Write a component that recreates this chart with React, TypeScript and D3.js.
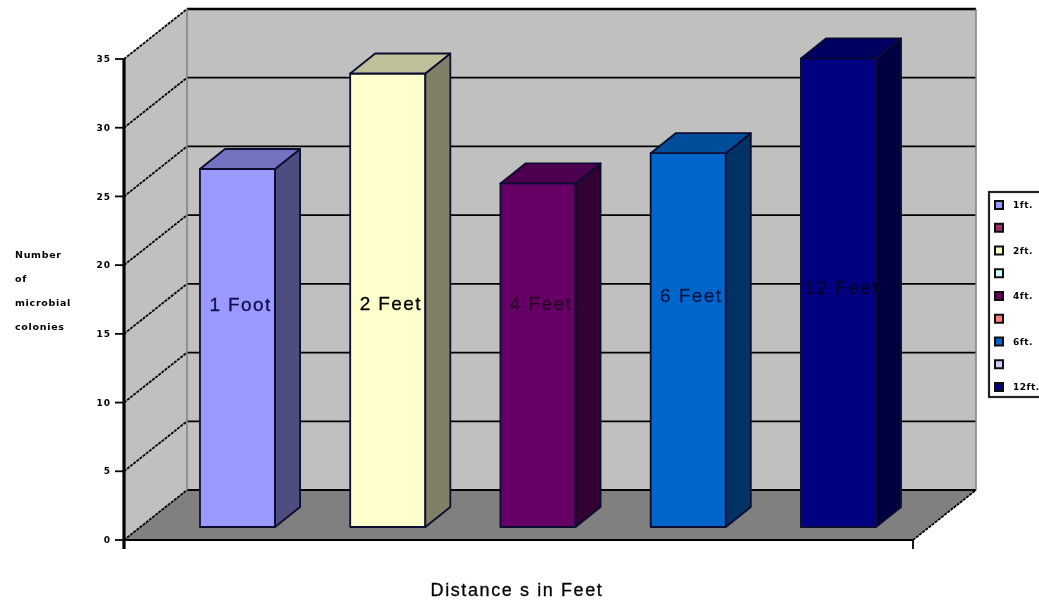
import React from 'react';
import * as d3 from 'd3';

const categories = ['1 Foot', '2 Feet', '4 Feet', '6 Feet', '12 Feet'];
const colonies = [26.05, 33, 25, 27.2, 34.1];
const barColors = ['#9999ff', '#ffffcc', '#660066', '#0066cc', '#000080'];
const labelColors = ['#101050', '#000000', '#2a002a', '#00184a', '#00002e'];
const yTicks = [0, 5, 10, 15, 20, 25, 30, 35];
const yTitle = ['Number', 'of', 'microbial', 'colonies'];
const xTitle = 'Distance s in Feet';
const legendLabels = ['1ft.', '', '2ft.', '', '4ft.', '', '6ft.', '', '12ft.'];
const legendColors = ['#9999ff', '#993366', '#ffffcc', '#ccffff', '#660066', '#ff8080', '#0066cc', '#ccccff', '#000080'];

const width = 1039;
const height = 603;
const smallFont = '"DejaVu Sans", sans-serif';
const labelFont = '"Liberation Sans", sans-serif';

// front plane of the 3d box, the back wall is this shifted by depth
const y = d3.scaleLinear().domain([0, 35]).range([540, 59]);
const depth = { x: 63, y: -50 };
const frontLeft = 124;
const frontRight = 913;
const barBaseShift = -13;
const barDepth = { x: 25, y: -20 };

const x = d3
  .scaleBand<string>()
  .domain(categories)
  .range([frontLeft + 38.4, frontRight + 0.6])
  .paddingInner(0.5)
  .paddingOuter(0.25);

const legendY = d3
  .scalePoint<number>()
  .domain(d3.range(legendColors.length))
  .range([205, 387]);

const pts = (p: [number, number][]) => p.map((d) => d.join(',')).join(' ');

const shade = (c: string, k: number) => {
  const r = d3.rgb(c);
  return d3.rgb(r.r * k, r.g * k, r.b * k).formatHex();
};

const Bar: React.FC<{ name: string; value: number; color: string }> = ({ name, value, color }) => {
  const x0 = x(name) as number;
  const x1 = x0 + x.bandwidth();
  const yBase = y(0) + barBaseShift;
  const yTop = y(value) + barBaseShift;
  return (
    <g stroke="#0c0c30" strokeWidth={1.8} strokeLinejoin="round">
      <rect x={x0} y={yTop} width={x1 - x0} height={yBase - yTop} fill={color} />
      <polygon
        fill={shade(color, 0.5)}
        points={pts([
          [x1, yTop],
          [x1 + barDepth.x, yTop + barDepth.y],
          [x1 + barDepth.x, yBase + barDepth.y],
          [x1, yBase],
        ])}
      />
      <polygon
        fill={shade(color, 0.75)}
        points={pts([
          [x0, yTop],
          [x0 + barDepth.x, yTop + barDepth.y],
          [x1 + barDepth.x, yTop + barDepth.y],
          [x1, yTop],
        ])}
      />
    </g>
  );
};

export default function App() {
  const backLeft = frontLeft + depth.x;
  const backRight = frontRight + depth.x;
  return (
    <svg
      width={width}
      height={height}
      viewBox={`0 0 ${width} ${height}`}
      style={{ position: 'absolute', left: 0, top: 0, background: '#fff' }}
    >
      <defs>
        <filter id="soft" filterUnits="userSpaceOnUse" x={0} y={0} width={width} height={height}>
          <feGaussianBlur stdDeviation="0.7" />
        </filter>
      </defs>
      <g filter="url(#soft)">
        <rect x={0} y={0} width={width} height={height} fill="#fff" />

        {/* walls and floor */}
        <rect x={backLeft} y={y(35) + depth.y} width={backRight - backLeft} height={y(0) - y(35)} fill="#c0c0c0" />
        <polygon
          fill="#c0c0c0"
          points={pts([
            [frontLeft, y(0)],
            [frontLeft, y(35)],
            [backLeft, y(35) + depth.y],
            [backLeft, y(0) + depth.y],
          ])}
        />
        <polygon
          fill="#808080"
          points={pts([
            [frontLeft, y(0)],
            [frontRight, y(0)],
            [backRight, y(0) + depth.y],
            [backLeft, y(0) + depth.y],
          ])}
        />

        {/* gridlines */}
        {yTicks.map((t) => (
          <g key={t} stroke="#000" fill="none">
            <line
              x1={frontLeft}
              y1={y(t)}
              x2={backLeft}
              y2={y(t) + depth.y}
              strokeWidth={1.8}
              strokeDasharray="3 1"
            />
            <line x1={backLeft} y1={y(t) + depth.y} x2={backRight} y2={y(t) + depth.y} strokeWidth={t === 35 ? 2.4 : 1.8} />
          </g>
        ))}
        <line x1={backLeft} y1={y(35) + depth.y} x2={backLeft} y2={y(0) + depth.y} stroke="#808080" strokeWidth={1.5} />
        <line x1={backRight} y1={y(35) + depth.y} x2={backRight} y2={y(0) + depth.y} stroke="#808080" strokeWidth={1.5} />
        <line x1={frontRight} y1={y(0)} x2={backRight} y2={y(0) + depth.y} stroke="#000" strokeWidth={1.8} strokeDasharray="3 1" />

        {categories.map((c, i) => (
          <Bar key={c} name={c} value={colonies[i]} color={barColors[i]} />
        ))}

        {/* axes */}
        <line x1={frontLeft} y1={y(35)} x2={frontLeft} y2={y(0) + 9} stroke="#000" strokeWidth={3.2} />
        <line x1={frontLeft} y1={y(0)} x2={frontRight} y2={y(0)} stroke="#000" strokeWidth={2.2} />
        <line x1={frontRight} y1={y(0)} x2={frontRight} y2={y(0) + 9} stroke="#000" strokeWidth={1.8} />
        {yTicks.map((t) => (
          <g key={t}>
            <line x1={frontLeft - 9} y1={y(t)} x2={frontLeft} y2={y(t)} stroke="#000" strokeWidth={1.8} />
            <text
              x={frontLeft - 13}
              y={y(t)}
              dy="0.35em"
              textAnchor="end"
              fontFamily={smallFont}
              fontWeight="bold"
              fontSize={9}
              letterSpacing={1}
              fill="#000"
            >
              {t}
            </text>
          </g>
        ))}

        {/* bar labels */}
        {categories.map((c, i) => (
          <text
            key={c}
            x={(x(c) as number) + x.bandwidth() / 2 + 3}
            y={[304, 303, 303, 295, 287][i]}
            dy="0.35em"
            textAnchor="middle"
            fontFamily={labelFont}
            fontSize={19}
            letterSpacing={1.4}
            stroke={labelColors[i]}
            strokeWidth={0.3}
            fill={labelColors[i]}
          >
            {c}
          </text>
        ))}

        {yTitle.map((l, i) => (
          <text
            key={l}
            x={15}
            y={255 + i * 24}
            dy="0.35em"
            fontFamily={smallFont}
            fontWeight="bold"
            fontSize={9.5}
            letterSpacing={0.7}
            fill="#000"
          >
            {l}
          </text>
        ))}
        <text
          x={517}
          y={590}
          dy="0.35em"
          textAnchor="middle"
          fontFamily={labelFont}
          fontSize={18}
          letterSpacing={1.6}
          stroke="#000"
          strokeWidth={0.3}
          fill="#000"
        >
          {xTitle}
        </text>

        {/* legend, runs off the right edge of the picture */}
        <rect x={989} y={192} width={60} height={205} fill="#fff" stroke="#222" strokeWidth={2.2} />
        {legendColors.map((c, i) => (
          <g key={i}>
            <rect
              x={995}
              y={(legendY(i) as number) - 4}
              width={8}
              height={8}
              fill={c}
              stroke="#111"
              strokeWidth={2}
            />
            <text
              x={1013}
              y={legendY(i) as number}
              dy="0.35em"
              fontFamily={smallFont}
              fontWeight="bold"
              fontSize={9}
              letterSpacing={0.5}
              fill="#000"
            >
              {legendLabels[i]}
            </text>
          </g>
        ))}
      </g>
    </svg>
  );
}
